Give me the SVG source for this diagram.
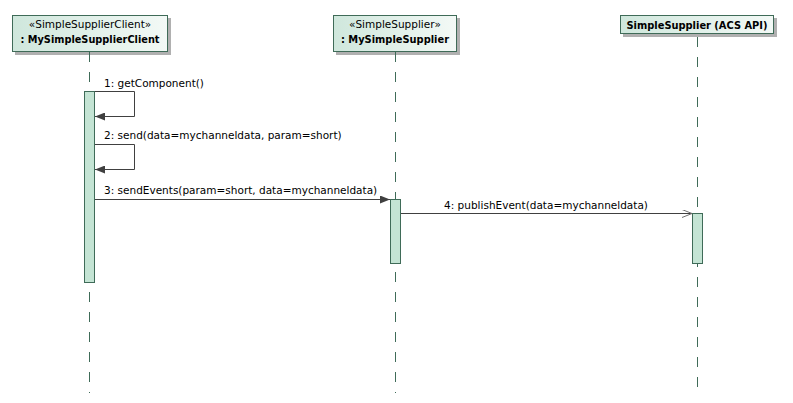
<svg xmlns="http://www.w3.org/2000/svg" width="793" height="403" viewBox="0 0 793 403">
<defs>
<linearGradient id="boxg" x1="0" y1="0" x2="1" y2="0">
<stop offset="0" stop-color="#cfe7dc"/>
<stop offset="1" stop-color="#f3f9f6"/>
</linearGradient>
<marker id="filled" viewBox="0 0 10 8" refX="10" refY="4" markerWidth="10" markerHeight="8" markerUnits="userSpaceOnUse" orient="auto">
<path d="M0,0 L10,4 L0,8 z" fill="#404040"/>
</marker>
<marker id="open" viewBox="0 0 10 8" refX="10" refY="4" markerWidth="10" markerHeight="8" markerUnits="userSpaceOnUse" orient="auto">
<path d="M0,0 L10,4 L0,8" fill="none" stroke="#707070" stroke-width="1"/>
</marker>
</defs>
<style>
.shadow{fill:#b0b0b0;}
.box{fill:url(#boxg);stroke:#3f6b58;stroke-width:1;}
.life{stroke:#3f6b58;stroke-width:1;stroke-dasharray:10 10;fill:none;}
.act{fill:#c4e4d4;stroke:#3f6b58;stroke-width:1;}
.msg{stroke:#404040;stroke-width:1;fill:none;}
.t{font-family:"DejaVu Sans",Verdana,sans-serif;font-size:10.5px;fill:#000;}
.b{font-family:"DejaVu Sans",Verdana,sans-serif;font-size:10.5px;font-weight:bold;fill:#000;}
.c{text-anchor:middle;}
</style>
<rect width="793" height="403" fill="#ffffff"/>

<g id="client">
<rect class="shadow" x="15" y="18" width="156" height="37"/>
<rect class="box" x="12.5" y="15.5" width="155" height="36"/>
<text class="t c" x="90" y="28">«SimpleSupplierClient»</text>
<text class="b c" x="90" y="43" textLength="139" lengthAdjust="spacingAndGlyphs">: MySimpleSupplierClient</text>
<line class="life" x1="89.5" y1="52" x2="89.5" y2="393"/>
<rect class="act" x="84.5" y="91.5" width="10" height="191"/>
</g>

<g id="supplier">
<rect class="shadow" x="336" y="18" width="124" height="37"/>
<rect class="box" x="333.5" y="15.5" width="123" height="36"/>
<text class="t c" x="395" y="28">«SimpleSupplier»</text>
<text class="b c" x="395" y="43" textLength="108" lengthAdjust="spacingAndGlyphs">: MySimpleSupplier</text>
<line class="life" x1="395.5" y1="52" x2="395.5" y2="393"/>
<rect class="act" x="390.5" y="199.5" width="10" height="64"/>
</g>

<g id="acsapi">
<rect class="shadow" x="623" y="18" width="154" height="19"/>
<rect class="box" x="620.5" y="15.5" width="153" height="18"/>
<text class="b c" x="697" y="29" textLength="141" lengthAdjust="spacingAndGlyphs">SimpleSupplier  (ACS API)</text>
<line class="life" x1="697.5" y1="37" x2="697.5" y2="393"/>
<rect class="act" x="692.5" y="213.5" width="10" height="50"/>
</g>

<g id="connectors">
<polyline class="msg" points="95,91.5 134.5,91.5 134.5,116.5 95,116.5" marker-end="url(#filled)"/>
<text class="t" x="104" y="86.5">1: getComponent()</text>
<polyline class="msg" points="95,144.5 134.5,144.5 134.5,169.5 95,169.5" marker-end="url(#filled)"/>
<text class="t" x="104" y="139">2: send(data=mychanneldata, param=short)</text>
<line class="msg" x1="95" y1="199.5" x2="390" y2="199.5" marker-end="url(#filled)"/>
<text class="t" x="104" y="194">3: sendEvents(param=short, data=mychanneldata)</text>
<line class="msg" x1="401" y1="213.5" x2="692" y2="213.5" marker-end="url(#open)"/>
<text class="t c" x="546" y="208.5">4: publishEvent(data=mychanneldata)</text>
</g>
</svg>
